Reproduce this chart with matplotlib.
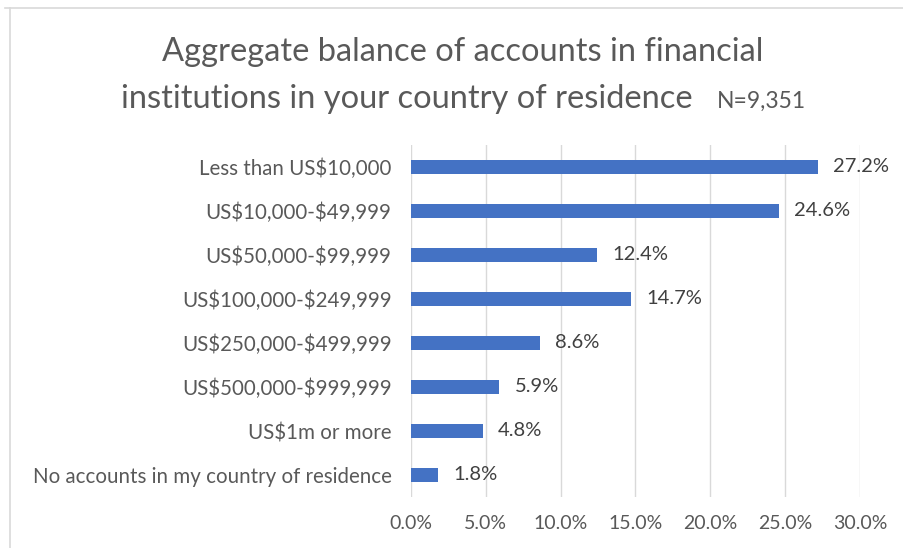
import matplotlib
matplotlib.use("Agg")
import matplotlib.pyplot as plt
from matplotlib.lines import Line2D

categories = [
    "Less than US$10,000",
    "US$10,000-$49,999",
    "US$50,000-$99,999",
    "US$100,000-$249,999",
    "US$250,000-$499,999",
    "US$500,000-$999,999",
    "US$1m or more",
    "No accounts in my country of residence",
]
values = [27.2, 24.6, 12.4, 14.7, 8.6, 5.9, 4.8, 1.8]
xticks = [0, 5, 10, 15, 20, 25, 30]
xtick_labels = ["0.0%", "5.0%", "10.0%", "15.0%", "20.0%", "25.0%", "30.0%"]
title_line1 = "Aggregate balance of accounts in financial"
title_line2 = "institutions in your country of residence"
n_label = "N=9,351"

plt.rcParams['font.family'] = ['Lato', 'DejaVu Sans']
plt.rcParams['text.parse_math'] = False

W, H = 904, 548
fig = plt.figure(figsize=(W / 100, H / 100), dpi=100)
fig.patch.set_facecolor("white")

def px(x, y):
    return x / W, 1 - y / H

ax = fig.add_axes([411 / W, (H - 497) / H, 449 / W, 352 / H])
ypos = list(range(len(categories)))
ax.barh(ypos, values, height=0.34, color="#4472C4", zorder=3)
ax.set_ylim(len(categories) - 0.5, -0.5)
ax.set_xlim(0, 30)
ax.set_xticks(xticks)
ax.set_xticklabels(xtick_labels)
ax.set_yticks(ypos)
ax.set_yticklabels(categories)
ax.grid(axis="x", color="#d9d9d9", linewidth=1, zorder=0)
for s in ax.spines.values():
    s.set_visible(False)
ax.tick_params(axis="x", length=0, labelsize=14, colors="#595959", pad=13)
ax.tick_params(axis="y", length=0, labelsize=14.8, colors="#595959", pad=14)
for y, v in zip(ypos, values):
    ax.annotate(f"{v:.1f}%", xy=(v, y), xytext=(11, 0), textcoords="offset points",
                ha="left", va="center", fontsize=14.5, color="#404040")

x1, y1 = px(463, 52)
fig.text(x1, y1, title_line1, ha="center", va="center", fontsize=23.5, color="#595959")
x2, y2 = px(693, 99)
fig.text(x2, y2, title_line2, ha="right", va="center", fontsize=23.5, color="#595959")
x3, y3 = px(717, 101)
fig.text(x3, y3, n_label, ha="left", va="center", fontsize=16.5, color="#595959")

fig.add_artist(Line2D([5 / W, 1], [1 - 8 / H, 1 - 8 / H], color="#d9d9d9", linewidth=1.2))
fig.add_artist(Line2D([10 / W, 10 / W], [0, 1 - 8 / H], color="#d9d9d9", linewidth=1.2))

fig.savefig("out.png", dpi=100)
